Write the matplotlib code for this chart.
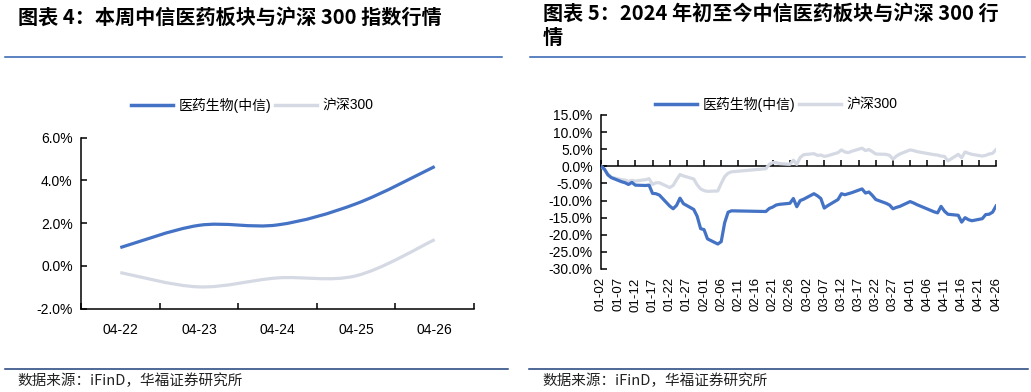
import numpy as np
import pandas as pd
import matplotlib
matplotlib.use('Agg')
import matplotlib.pyplot as plt
from matplotlib.path import Path
from matplotlib.patches import PathPatch
from matplotlib.lines import Line2D
from matplotlib.ticker import FuncFormatter
import matplotlib.dates as mdates

plt.rcParams['font.family'] = ['Liberation Sans', 'Noto Sans CJK SC', 'DejaVu Sans']

# ---- 图表4 数据：本周 ----
week_days = ['04-22', '04-23', '04-24', '04-25', '04-26']
week_yiyao = [0.86, 1.90, 1.92, 2.91, 4.65]
week_hs300 = [-0.31, -0.98, -0.56, -0.46, 1.23]

# ---- 图表5 数据：年初至今 ----
trade_days = (
    ['01-02', '01-03', '01-04', '01-05', '01-08', '01-09', '01-10', '01-11', '01-12',
     '01-15', '01-16', '01-17', '01-18', '01-19', '01-22', '01-23', '01-24', '01-25',
     '01-26', '01-29', '01-30', '01-31']
    + ['02-01', '02-02', '02-05', '02-06', '02-07', '02-08', '02-09', '02-19', '02-20',
       '02-21', '02-22', '02-23', '02-26', '02-27', '02-28', '02-29']
    + ['03-01', '03-04', '03-05', '03-06', '03-07', '03-08', '03-11', '03-12', '03-13',
       '03-14', '03-15', '03-18', '03-19', '03-20', '03-21', '03-22', '03-25', '03-26',
       '03-27', '03-28', '03-29']
    + ['04-01', '04-02', '04-03', '04-08', '04-09', '04-10', '04-11', '04-12', '04-15',
       '04-16', '04-17', '04-18', '04-19', '04-22', '04-23', '04-24', '04-25', '04-26']
)
ytd_yiyao = (
    [0.0, -0.8, -2.5, -3.3, -4.5, -4.8, -5.3, -4.7, -5.5,
     -5.6, -5.5, -7.9, -8.0, -8.4, -11.6, -12.4, -11.4, -9.3,
     -10.9, -12.6, -14.6, -18.2]
    + [-18.5, -21.2, -22.7, -22.0, -16.5, -13.4, -13.0, -13.2, -12.3,
       -11.9, -11.3, -11.1, -10.8, -9.4, -11.8, -10.0]
    + [-9.6, -8.0, -8.6, -9.4, -12.2, -11.5, -9.7, -8.0, -8.3,
       -8.0, -7.7, -6.6, -7.8, -7.5, -8.5, -9.7, -10.8, -11.3,
       -12.4, -12.0, -11.7]
    + [-10.3, -10.7, -11.2, -13.3, -13.6, -11.7, -13.1, -14.0, -14.3,
       -16.3, -15.0, -15.6, -15.9, -15.3, -14.1, -14.0, -13.4, -11.6]
)
ytd_hs300 = (
    [0.0, -1.0, -2.2, -3.2, -3.9, -4.0, -4.4, -4.1, -4.3,
     -3.9, -3.6, -5.3, -4.8, -4.8, -6.2, -5.6, -3.9, -2.4,
     -2.8, -3.7, -5.4, -6.6]
    + [-7.1, -7.3, -7.2, -5.0, -3.0, -2.0, -1.6, -0.7, 0.6,
       1.1, 1.1, 0.8, 0.6, 1.8, 0.6, 2.6]
    + [3.4, 3.7, 3.2, 3.3, 2.9, 3.1, 4.0, 4.8, 4.2,
       4.0, 4.4, 5.3, 4.6, 4.9, 4.3, 3.6, 3.5, 3.2,
       2.1, 3.0, 3.6]
    + [4.8, 4.6, 4.3, 3.4, 3.3, 3.0, 2.9, 1.6, 3.5,
       2.5, 4.2, 3.8, 3.5, 3.0, 3.2, 3.6, 3.8, 4.9]
)
ytd_tick_labels = ['01-02', '01-07', '01-12', '01-17', '01-22', '01-27', '02-01', '02-06',
                   '02-11', '02-16', '02-21', '02-26', '03-02', '03-07', '03-12', '03-17',
                   '03-22', '03-27', '04-01', '04-06', '04-11', '04-16', '04-21', '04-26']

blue = '#4472C4'
grey = '#D5D9E3'
pct = FuncFormatter(lambda v, p: '%.1f%%' % v)


def smooth_path(xs, ys):
    # Excel 风格的平滑曲线（贝塞尔）
    pts = np.column_stack([xs, ys]).astype(float)
    n = len(pts)
    verts = [pts[0]]
    codes = [Path.MOVETO]
    for i in range(n - 1):
        p0 = pts[max(i - 1, 0)]
        p1 = pts[i]
        p2 = pts[i + 1]
        p3 = pts[min(i + 2, n - 1)]
        verts += [p1 + (p2 - p0) / 6, p2 - (p3 - p1) / 6, p2]
        codes += [Path.CURVE4] * 3
    return Path(verts, codes)


fig = plt.figure(figsize=(10.31, 3.92), dpi=100)

# 标题和分隔线
fig.text(18 / 1031, 1 - 17 / 392, '图表 4：本周中信医药板块与沪深 300 指数行情',
         fontsize=14.5, fontweight='bold', va='center', family=['Noto Sans CJK SC'])
fig.text(543 / 1031, 1 - 3 / 392, '图表 5：2024 年初至今中信医药板块与沪深 300 行\n情',
         fontsize=14.5, fontweight='bold', va='top', linespacing=1.15, family=['Noto Sans CJK SC'])
for x0, x1 in [(5, 502), (530, 1025)]:
    fig.add_artist(Line2D([x0 / 1031, x1 / 1031], [1 - 56.5 / 392] * 2, color='#2F5FB0', lw=1.1))
for x0, x1 in [(5, 508), (529, 1028)]:
    fig.add_artist(Line2D([x0 / 1031, x1 / 1031], [1 - 369 / 392] * 2, color='#1F3E7A', lw=1.1))
for x0 in [17, 542]:
    fig.text(x0 / 1031, 1 - 381 / 392, '数据来源：iFinD，华福证券研究所', fontsize=10.5,
             va='center', color='#222222', family=['Noto Sans CJK SC'])

# ---- 左图 ----
ax1 = fig.add_axes([81 / 1031, 1 - 308.7 / 392, 393 / 1031, 171 / 392])
x = np.arange(len(week_days))
ax1.add_patch(PathPatch(smooth_path(x, week_hs300), fill=False, edgecolor=grey, lw=2.3))
ax1.add_patch(PathPatch(smooth_path(x, week_yiyao), fill=False, edgecolor=blue, lw=2.3))
ax1.set_xlim(-0.5, len(week_days) - 0.5)
ax1.set_ylim(-2, 6)
ax1.set_yticks(np.arange(-2, 7, 2))
ax1.yaxis.set_major_formatter(pct)
ax1.set_xticks(np.arange(-0.5, len(week_days), 1), labels=[''] * (len(week_days) + 1))
ax1.set_xticks(x, labels=week_days, minor=True)
ax1.tick_params(axis='both', which='major', direction='in', length=4, width=1.1, labelsize=10)
ax1.tick_params(axis='x', which='minor', length=0, pad=10, labelsize=10)
ax1.tick_params(axis='y', pad=6)
handles = [Line2D([], [], color=blue, lw=2.5), Line2D([], [], color=grey, lw=2.5)]
ax1.legend(handles, ['医药生物(中信)', '沪深300'], loc='center', bbox_to_anchor=(0.436, 1.19),
           ncol=2, frameon=False, fontsize=10, handlelength=3.0, columnspacing=0.3,
           handletextpad=0.4)

# ---- 右图 ----
ax2 = fig.add_axes([601 / 1031, 1 - 269 / 392, 395 / 1031, 154 / 392])
dates = pd.to_datetime(['2024-' + d for d in trade_days])
tick_dates = mdates.date2num(pd.to_datetime(['2024-' + d for d in ytd_tick_labels]))
ax2.plot(dates, ytd_hs300, color=grey, lw=2.3, zorder=3)
ax2.plot(dates, ytd_yiyao, color=blue, lw=2.3, zorder=3)
ax2.set_xlim(tick_dates[0], tick_dates[-1])
ax2.set_ylim(-30, 15)
ax2.set_yticks(np.arange(-30, 16, 5))
ax2.yaxis.set_major_formatter(pct)
ax2.spines['bottom'].set_position(('data', 0))
ax2.set_xticks(tick_dates)
ax2.tick_params(axis='x', direction='in', length=4, width=1.1, labelbottom=False)
ax2.tick_params(axis='y', direction='in', length=4, width=1.1, labelsize=10, pad=6)
sec = ax2.secondary_xaxis('bottom')
sec.set_xticks(tick_dates, labels=ytd_tick_labels)
sec.tick_params(length=0, pad=6, labelsize=9.5, labelrotation=90)
sec.spines['bottom'].set_visible(False)
ax2.legend(handles, ['医药生物(中信)', '沪深300'], loc='center', bbox_to_anchor=(0.444, 1.071),
           ncol=2, frameon=False, fontsize=10, handlelength=3.0, columnspacing=0.3,
           handletextpad=0.4)

for ax in (ax1, ax2):
    ax.spines['top'].set_visible(False)
    ax.spines['right'].set_visible(False)
    for s in ('left', 'bottom'):
        ax.spines[s].set_linewidth(1.1)

fig.savefig('out.png', dpi=100)
